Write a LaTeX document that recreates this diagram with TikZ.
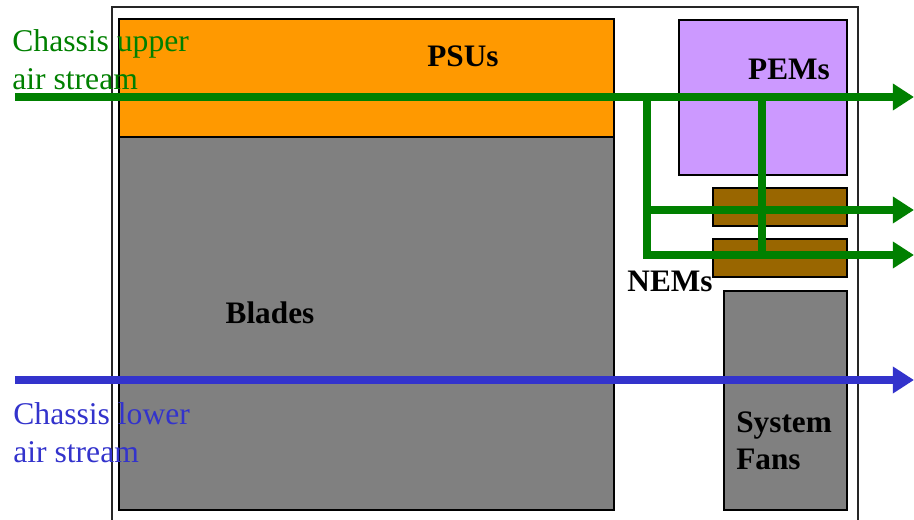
\documentclass[tikz,border=0pt]{standalone}
\usepackage{fontspec}
\setmainfont{Liberation Serif}
\usetikzlibrary{arrows.meta,positioning,fit}
\definecolor{cpsu}{HTML}{FF9900}
\definecolor{cblade}{HTML}{808080}
\definecolor{cpem}{HTML}{CC99FF}
\definecolor{cnem}{HTML}{996600}
\definecolor{cup}{HTML}{008000}
\definecolor{clow}{HTML}{3333CC}
\tikzset{
  unit/.style={rectangle, draw=black, line width=1.1pt, inner sep=0pt},
  ulbl/.style={font=\fontsize{17.8}{21.5}\selectfont\bfseries, inner sep=0pt},
  slbl/.style={font=\fontsize{18}{21.8}\selectfont, align=left, inner sep=0pt, anchor=north west},
  air/.style={line width=4.4pt, -{Triangle[length=12pt, width=14.5pt]}},
  airl/.style={line width=4.4pt}
}

\begin{document}
\begin{tikzpicture}[x=0.02cm, y=-0.02cm]
\useasboundingbox (0,0) rectangle (914,520);

% chassis and units
\node[unit, draw=black!85, line width=0.9pt, fit={(112,7) (858,545)}] (chassis) {};
\node[unit, fill=cpsu, fit={(119,19) (614,137)}] (psu) {};
\node[unit, fill=cblade, fit={(119,137) (614,510)}] (blades) {};
\node[unit, fill=cpem, fit={(679,20) (847,175)}] (pem) {};
\node[unit, fill=cnem, fit={(713,188) (847,226)}] (nema) {};
\node[unit, fill=cnem, fit={(713,239) (847,277)}] (nemb) {};
\node[unit, fill=cblade, fit={(724,291) (847,510)}] (fans) {};

% air streams
\coordinate (upin) at (15,97);
\coordinate (upout) at (914,97);
\coordinate (jl) at (647,97);
\coordinate (jr) at (762,97);
\coordinate (nemaout) at (914,210);
\coordinate (nembout) at (914,255);
\coordinate (lowin) at (15,380);
\coordinate (lowout) at (914,380);

\draw[air, cup] (upin) -- (upout);
\draw[air, cup] (jl) |- (nembout);
\draw[air, cup] (jl |- nemaout) -- (nemaout);
\draw[airl, cup] (jr) -- (jr |- nembout);
\draw[air, clow, line width=4.8pt] (lowin) -- (lowout);

% labels
\node[ulbl] (psulbl) at (463,56) {PSUs};
\node[ulbl] (pemlbl) at (789,69) {PEMs};
\node[ulbl] (nemlbl) at (670,281) {NEMs};
\node[ulbl] (bladelbl) at (270,313) {Blades};
\node[ulbl, align=left, anchor=north west] (fanlbl) at (736,411)
 {System\\Fans};
\node[slbl, text=cup] (uplbl) at (12,29) {Chassis upper\\air stream};
\node[slbl, text=clow] (lowlbl) at (13,402) {Chassis lower\\air stream};

\end{tikzpicture}
\end{document}
